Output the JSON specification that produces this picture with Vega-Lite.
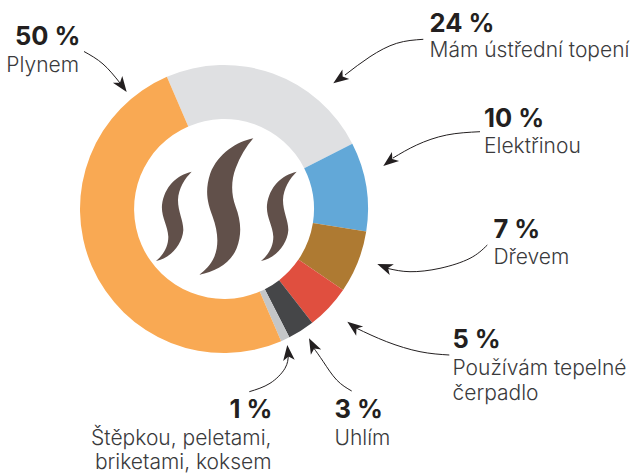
{"$schema":"https://vega.github.io/schema/vega-lite/v6.json","width":635,"height":473,"padding":0,"autosize":{"type":"none"},"background":"white","config":{"view":{"stroke":null}},
"datasets":{
"shares":[{"heating":"Mám ústřední topení","share":24,"rank":1},{"heating":"Elektřinou","share":10,"rank":2},{"heating":"Dřevem","share":7,"rank":3},{"heating":"Používám tepelné čerpadlo","share":5,"rank":4},{"heating":"Uhlím","share":3,"rank":5},{"heating":"Štěpkou, peletami, briketami, koksem","share":1,"rank":6},{"heating":"Plynem","share":50,"rank":7}],
"arrows":[
{"arrow":"a","seq":1,"px":84,"py":51.5},{"arrow":"a","seq":2,"px":103,"py":64},{"arrow":"a","seq":3,"px":120,"py":83},
{"arrow":"b","seq":1,"px":423.3,"py":39.3},{"arrow":"b","seq":2,"px":396.7,"py":43.3},{"arrow":"b","seq":3,"px":370,"py":56.7},{"arrow":"b","seq":4,"px":345,"py":75},
{"arrow":"c","seq":1,"px":480,"py":131.7},{"arrow":"c","seq":2,"px":446.7,"py":135},{"arrow":"c","seq":3,"px":416.7,"py":145},{"arrow":"c","seq":4,"px":393,"py":158},
{"arrow":"d","seq":1,"px":487.3,"py":245},{"arrow":"d","seq":2,"px":470,"py":258.3},{"arrow":"d","seq":3,"px":440,"py":268.3},{"arrow":"d","seq":4,"px":410,"py":271.7},{"arrow":"d","seq":5,"px":388,"py":268.5},
{"arrow":"e","seq":1,"px":449.3,"py":355},{"arrow":"e","seq":2,"px":420,"py":351.7},{"arrow":"e","seq":3,"px":386.7,"py":341.7},{"arrow":"e","seq":4,"px":356,"py":328},
{"arrow":"f","seq":1,"px":351.7,"py":391},{"arrow":"f","seq":2,"px":336.7,"py":380},{"arrow":"f","seq":3,"px":323.3,"py":361.7},{"arrow":"f","seq":4,"px":313,"py":347},
{"arrow":"g","seq":1,"px":249.3,"py":391.7},{"arrow":"g","seq":2,"px":270,"py":383.3},{"arrow":"g","seq":3,"px":285,"py":368.3},{"arrow":"g","seq":4,"px":288.3,"py":355}],
"heads":[{"px":126.7,"py":92,"turn":144},{"px":333.3,"py":83.3,"turn":234},{"px":383.3,"py":166,"turn":232},{"px":377.3,"py":264,"turn":291},{"px":347.3,"py":321.7,"turn":307},{"px":309,"py":338.3,"turn":333},{"px":287.3,"py":345,"turn":354}],
"notes":[
{"t":"50 %","px":80.5,"py":45,"side":"r","kind":"b"},{"t":"Plynem","px":79,"py":72,"side":"r","kind":"n"},
{"t":"24 %","px":429.5,"py":32,"side":"l","kind":"b"},{"t":"Mám ústřední topení","px":429.5,"py":57,"side":"l","kind":"n"},
{"t":"10 %","px":484,"py":127,"side":"l","kind":"b"},{"t":"Elektřinou","px":484,"py":152.7,"side":"l","kind":"n"},
{"t":"7 %","px":493.5,"py":238,"side":"l","kind":"b"},{"t":"Dřevem","px":493.5,"py":264,"side":"l","kind":"n"},
{"t":"5 %","px":452.5,"py":348,"side":"l","kind":"b"},{"t":"Používám tepelné","px":452.5,"py":375,"side":"l","kind":"n"},{"t":"čerpadlo","px":452.5,"py":399.5,"side":"l","kind":"n"},
{"t":"3 %","px":334.5,"py":418,"side":"l","kind":"b"},{"t":"Uhlím","px":334.5,"py":445,"side":"l","kind":"n"},
{"t":"1 %","px":272.5,"py":418,"side":"r","kind":"b"},{"t":"Štěpkou, peletami,","px":271.5,"py":445,"side":"r","kind":"n"},{"t":"briketami, koksem","px":271.5,"py":469,"side":"r","kind":"n"}]
},
"layer":[
{"data":{"name":"shares"},"mark":{"type":"arc","innerRadius":90,"outerRadius":144},
"encoding":{
"x":{"datum":224,"type":"quantitative","scale":{"domain":[0,635],"nice":false,"zero":false},"axis":null},
"y":{"datum":209,"type":"quantitative","scale":{"domain":[0,473],"reverse":true,"nice":false,"zero":false},"axis":null},
"theta":{"field":"share","type":"quantitative","stack":true,"scale":{"domain":[0,100],"range":[-0.408,5.875]}},
"order":{"field":"rank","type":"quantitative"},
"color":{"field":"heating","type":"nominal","legend":null,"scale":{"domain":["Mám ústřední topení","Elektřinou","Dřevem","Používám tepelné čerpadlo","Uhlím","Štěpkou, peletami, briketami, koksem","Plynem"],"range":["#DFE0E2","#62A8D8","#AE7A32","#E04F3F","#454648","#C4C6C8","#F9A953"]}}}},
{"data":{"values":[{"icon":"smoke"}]},"mark":{"type":"point","filled":true,"opacity":1,"size":0.4444,"color":"#61504A","shape":"M340,25 C290,35 235,70 211,130 C193,185 203,220 218,260 C233,300 238,345 223,380 C212,405 195,420 178,434 C225,425 272,400 290,355 C307,310 302,270 287,230 C272,190 274,150 287,115 C300,80 318,50 340,25 Z M155,125 C110,135 73,170 66,225 C63,260 83,285 85,320 C85,350 70,375 48,393 C90,385 127,345 130,300 C130,270 114,245 114,210 C115,175 135,145 155,125 Z M470,125 C425,135 388,170 381,225 C378,260 398,285 400,320 C400,350 385,375 363,393 C405,385 442,345 445,300 C445,270 429,245 429,210 C430,175 450,145 470,125 Z"},
"encoding":{"x":{"datum":140,"type":"quantitative"},"y":{"datum":130,"type":"quantitative"}}},
{"data":{"name":"arrows"},"mark":{"type":"line","interpolate":"natural","stroke":"#231F20","strokeWidth":1},
"encoding":{"x":{"field":"px","type":"quantitative"},"y":{"field":"py","type":"quantitative"},"detail":{"field":"arrow"},"order":{"field":"seq","type":"quantitative"}}},
{"data":{"name":"heads"},"mark":{"type":"point","filled":true,"opacity":1,"size":4,"color":"#231F20","shape":"M0,0 L5.8,15.5 L0,11.5 L-5.8,15.5 Z"},
"encoding":{"x":{"field":"px","type":"quantitative"},"y":{"field":"py","type":"quantitative"},"angle":{"field":"turn","type":"quantitative","scale":null}}},
{"data":{"name":"notes"},"transform":[{"filter":"datum.kind=='b'&&datum.side=='l'"}],"mark":{"type":"text","align":"left","baseline":"alphabetic","font":"Inter","fontSize":25.5,"fontWeight":700,"color":"#231F20"},
"encoding":{"x":{"field":"px","type":"quantitative"},"y":{"field":"py","type":"quantitative"},"text":{"field":"t"}}},
{"data":{"name":"notes"},"transform":[{"filter":"datum.kind=='b'&&datum.side=='r'"}],"mark":{"type":"text","align":"right","baseline":"alphabetic","font":"Inter","fontSize":25.5,"fontWeight":700,"color":"#231F20"},
"encoding":{"x":{"field":"px","type":"quantitative"},"y":{"field":"py","type":"quantitative"},"text":{"field":"t"}}},
{"data":{"name":"notes"},"transform":[{"filter":"datum.kind=='n'&&datum.side=='l'"}],"mark":{"type":"text","align":"left","baseline":"alphabetic","font":"Inter","fontSize":21,"fontWeight":300,"color":"#3A3A3C"},
"encoding":{"x":{"field":"px","type":"quantitative"},"y":{"field":"py","type":"quantitative"},"text":{"field":"t"}}},
{"data":{"name":"notes"},"transform":[{"filter":"datum.kind=='n'&&datum.side=='r'"}],"mark":{"type":"text","align":"right","baseline":"alphabetic","font":"Inter","fontSize":21,"fontWeight":300,"color":"#3A3A3C"},
"encoding":{"x":{"field":"px","type":"quantitative"},"y":{"field":"py","type":"quantitative"},"text":{"field":"t"}}}
]}
